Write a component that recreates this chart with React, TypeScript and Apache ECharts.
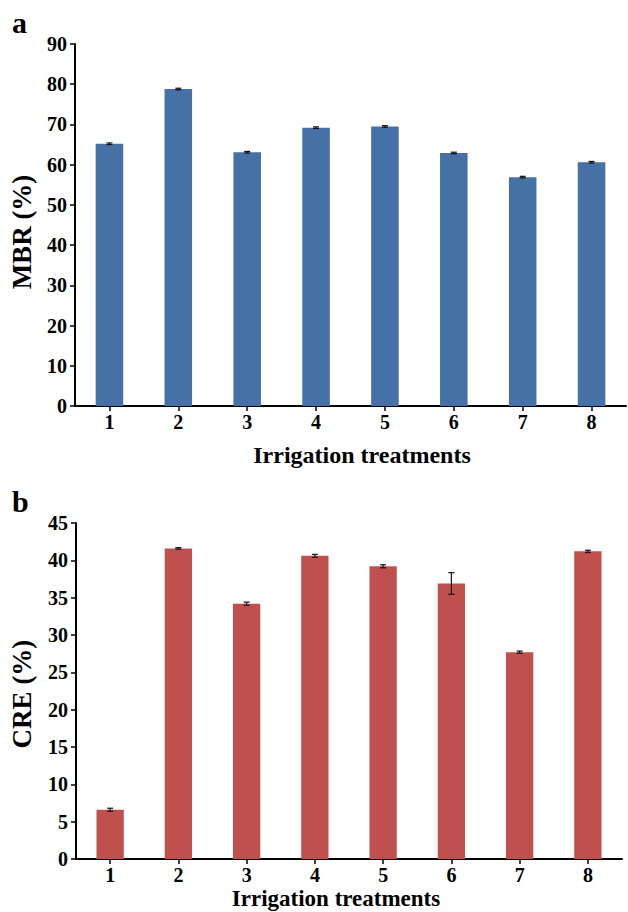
import React, { useEffect, useRef } from "react";
import * as echarts from "echarts";

const categories = ["1", "2", "3", "4", "5", "6", "7", "8"];
const mbrValues = [65.2, 78.8, 63.1, 69.2, 69.5, 62.9, 56.9, 60.6];
const mbrErrors = [0.2, 0.2, 0.2, 0.2, 0.2, 0.2, 0.2, 0.2];
const creValues = [6.6, 41.6, 34.2, 40.6, 39.2, 36.9, 27.7, 41.2];
const creErrors = [0.2, 0.1, 0.2, 0.2, 0.2, 1.45, 0.15, 0.15];
const mbrTicks = { min: 0, max: 90, interval: 10 };
const creTicks = { min: 0, max: 45, interval: 5 };
const xTitle = "Irrigation treatments";
const mbrTitle = "MBR (%)";
const creTitle = "CRE (%)";

const FONT = "'Liberation Serif', 'Times New Roman', serif";

function errorItems(values: number[], errors: number[]) {
  return values.map((v, i) => [i, v - errors[i], v + errors[i]]);
}

function renderError(params: any, api: any) {
  const x = api.value(0);
  const lo = api.coord([x, api.value(1)]);
  const hi = api.coord([x, api.value(2)]);
  const cap = 3;
  const style = { stroke: "#111", lineWidth: 1.2 };
  return {
    type: "group",
    children: [
      { type: "line", shape: { x1: lo[0], y1: lo[1], x2: hi[0], y2: hi[1] }, style },
      { type: "line", shape: { x1: lo[0] - cap, y1: lo[1], x2: lo[0] + cap, y2: lo[1] }, style },
      { type: "line", shape: { x1: hi[0] - cap, y1: hi[1], x2: hi[0] + cap, y2: hi[1] }, style },
    ],
  };
}

export default function App() {
  const ref = useRef<HTMLDivElement>(null);
  useEffect(() => {
    if (!ref.current) return;
    const chart = echarts.init(ref.current, null, { renderer: "svg" });
    const axisLine = { show: true, lineStyle: { color: "#000", width: 2 } };
    const label = { color: "#000", fontFamily: FONT, fontWeight: "bold", fontSize: 20 };
    const xAxisBase = {
      type: "category",
      data: categories,
      axisLine,
      axisTick: { show: true, alignWithLabel: true, length: 5, lineStyle: { color: "#000", width: 1.5 } },
      axisLabel: { ...label, margin: 6 },
      splitLine: { show: false },
    };
    const yAxisBase = {
      type: "value",
      axisLine,
      axisTick: { show: true, length: 5, lineStyle: { color: "#000", width: 1.5 } },
      axisLabel: { ...label, margin: 8 },
      splitLine: { show: false },
    };
    const titleStyle = (text: string, size: number) => ({
      text,
      fontFamily: FONT,
      fontWeight: "bold",
      fontSize: size,
      fill: "#000",
      textAlign: "center",
      textVerticalAlign: "middle",
    });
    chart.setOption({
      animation: false,
      backgroundColor: "#fff",
      grid: [
        { left: 75, right: 2, top: 44, bottom: 506, containLabel: false },
        { left: 76, right: 6, top: 523, bottom: 53, containLabel: false },
      ],
      xAxis: [
        { ...xAxisBase, gridIndex: 0 },
        { ...xAxisBase, gridIndex: 1 },
      ],
      yAxis: [
        { ...yAxisBase, gridIndex: 0, ...mbrTicks },
        { ...yAxisBase, gridIndex: 1, ...creTicks },
      ],
      graphic: [
        { type: "text", left: 12, top: 7, style: { text: "a", fontFamily: FONT, fontWeight: "bold", fontSize: 30, fill: "#000" } },
        { type: "text", left: 12, top: 486, style: { text: "b", fontFamily: FONT, fontWeight: "bold", fontSize: 30, fill: "#000" } },
        { type: "text", x: 362, y: 455, style: titleStyle(xTitle, 24) },
        { type: "text", x: 336, y: 898, style: titleStyle(xTitle, 23) },
        { type: "text", x: 22, y: 232, rotation: Math.PI / 2, style: titleStyle(mbrTitle, 27) },
        { type: "text", x: 22, y: 694, rotation: Math.PI / 2, style: titleStyle(creTitle, 27) },
      ],
      series: [
        {
          type: "bar",
          xAxisIndex: 0,
          yAxisIndex: 0,
          data: mbrValues,
          barWidth: "40%",
          itemStyle: { color: "#4671A7" },
        },
        {
          type: "custom",
          xAxisIndex: 0,
          yAxisIndex: 0,
          data: errorItems(mbrValues, mbrErrors),
          renderItem: renderError,
          z: 10,
        },
        {
          type: "bar",
          xAxisIndex: 1,
          yAxisIndex: 1,
          data: creValues,
          barWidth: "40%",
          itemStyle: { color: "#C0504D" },
        },
        {
          type: "custom",
          xAxisIndex: 1,
          yAxisIndex: 1,
          data: errorItems(creValues, creErrors),
          renderItem: renderError,
          z: 10,
        },
      ],
    });
    return () => chart.dispose();
  }, []);
  return (
    <div
      ref={ref}
      style={{ position: "fixed", left: 0, top: 0, width: 628, height: 912, background: "#fff" }}
    />
  );
}
